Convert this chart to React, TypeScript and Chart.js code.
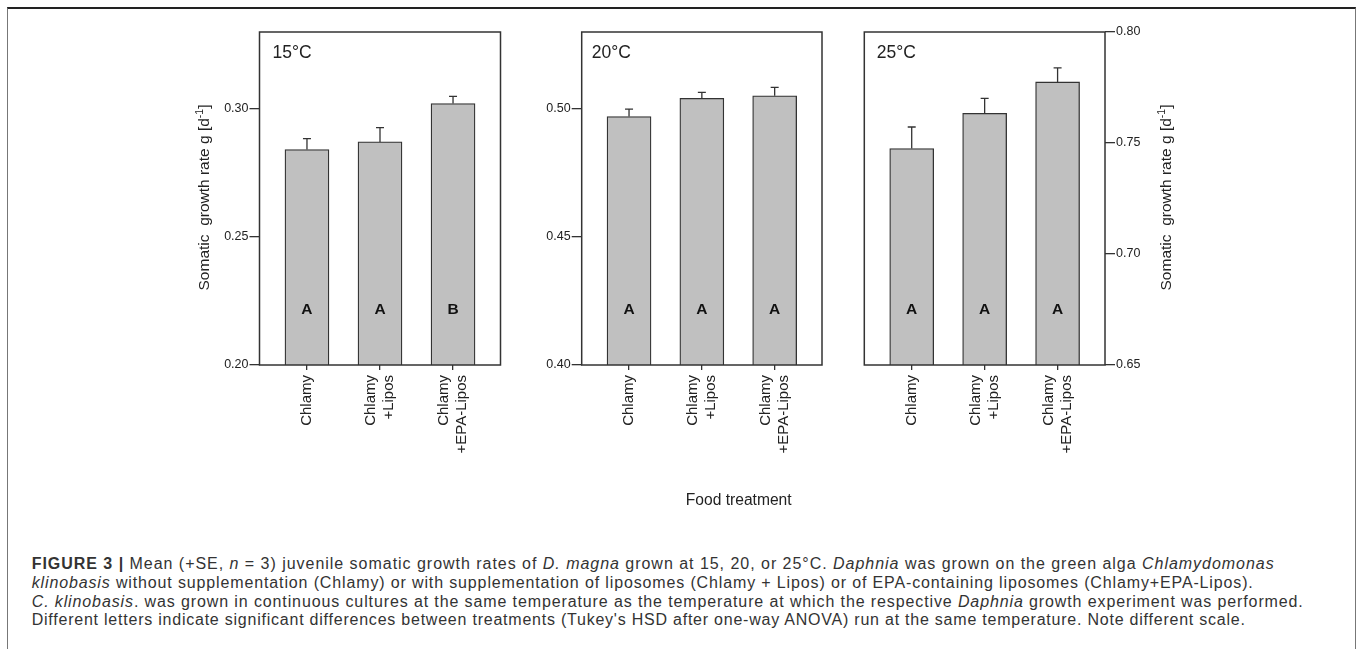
import React, { useEffect, useLayoutEffect, useRef } from 'react';
import { Chart, registerables } from 'chart.js';

Chart.register(...registerables);

const FONT = '"Liberation Sans", Arial, Helvetica, sans-serif';
const INK = '#222';
const LINE = '#333';

// Food treatments on the x axis, one entry per printed line
const treatments: string[][] = [['Chlamy'], ['Chlamy', '+Lipos'], ['Chlamy', '+EPA-Lipos']];

// Rearing temperatures, one panel each
const temperatures = ['15°C', '20°C', '25°C'];

// Mean juvenile somatic growth rate g [d-1] and its standard error
const growth15 = [0.2841, 0.2871, 0.3021];
const se15 = [0.0043, 0.0056, 0.0028];
const growth20 = [0.497, 0.5041, 0.5051];
const se20 = [0.0029, 0.0023, 0.0033];
const growth25 = [0.7475, 0.7634, 0.7775];
const se25 = [0.0097, 0.0067, 0.0063];

// Tukey's HSD groups within each temperature
const letters15 = ['A', 'A', 'B'];
const letters20 = ['A', 'A', 'A'];
const letters25 = ['A', 'A', 'A'];

// Value axes
const yTicks15 = [0.2, 0.25, 0.3];
const yTicks20 = [0.4, 0.45, 0.5];
const yTicks25 = [0.65, 0.7, 0.75, 0.8];
const yRange15 = [0.2, 0.33];
const yRange20 = [0.4, 0.53];
const yRange25 = [0.65, 0.8];

const yTitleMain = 'Somatic  growth rate g [d';
const yTitleSup = '-1';
const yTitleEnd = ']';
const xTitle = 'Food treatment';

type Box = { left: number; top: number; width: number; height: number };
type Area = { left: number; top: number; right: number; bottom: number };

type PanelProps = {
  temp: string;
  values: number[];
  errors: number[];
  letters: string[];
  yTicks: number[];
  yRange: number[];
  axisSide: 'left' | 'right';
  canvas: Box;
  area: Area;
  yTitleDx: number | null;
  showXTitle: boolean;
  tempDx: number;
};

function drawYTitle(ctx: CanvasRenderingContext2D, x: number, y: number) {
  ctx.save();
  ctx.translate(x, y);
  ctx.rotate(-Math.PI / 2);
  ctx.fillStyle = INK;
  ctx.textBaseline = 'middle';
  ctx.textAlign = 'left';
  const main = `15.5px ${FONT}`;
  const sup = `10.5px ${FONT}`;
  ctx.font = main;
  const w1 = ctx.measureText(yTitleMain).width;
  const w3 = ctx.measureText(yTitleEnd).width;
  ctx.font = sup;
  const w2 = ctx.measureText(yTitleSup).width;
  let sx = -(w1 + w2 + w3) / 2;
  ctx.font = main;
  ctx.fillText(yTitleMain, sx, 0);
  sx += w1;
  ctx.font = sup;
  ctx.fillText(yTitleSup, sx, -5);
  sx += w2;
  ctx.font = main;
  ctx.fillText(yTitleEnd, sx, 0);
  ctx.restore();
}

function Panel(p: PanelProps) {
  const ref = useRef<HTMLCanvasElement>(null);

  useEffect(() => {
    const canvas = ref.current;
    if (!canvas) return;
    const c = p.canvas;
    const a = p.area;
    const left = p.axisSide === 'left';
    const yWidth = left ? a.left - c.left : c.left + c.width - a.right;
    const xHeight = c.top + c.height - a.bottom;

    const decor = {
      id: 'panelDecor',
      afterDatasetsDraw(chart: any) {
        const ctx: CanvasRenderingContext2D = chart.ctx;
        const ca = chart.chartArea;
        const xs = chart.scales.x;
        const ys = chart.scales.y;
        ctx.save();

        // error bars (+SE)
        ctx.strokeStyle = LINE;
        ctx.lineWidth = 1.3;
        p.values.forEach((v, i) => {
          const x = xs.getPixelForValue(i);
          const y0 = ys.getPixelForValue(v);
          const y1 = ys.getPixelForValue(v + p.errors[i]);
          ctx.beginPath();
          ctx.moveTo(x, y0);
          ctx.lineTo(x, y1);
          ctx.moveTo(x - 4, y1);
          ctx.lineTo(x + 4, y1);
          ctx.stroke();
        });

        // panel frame
        ctx.lineWidth = 1.5;
        ctx.strokeRect(ca.left, ca.top, ca.right - ca.left, ca.bottom - ca.top);

        // significance letters
        ctx.fillStyle = '#111';
        ctx.font = `bold 15.5px ${FONT}`;
        ctx.textAlign = 'center';
        ctx.textBaseline = 'middle';
        p.letters.forEach((l, i) => {
          ctx.fillText(l, xs.getPixelForValue(i), ca.bottom - 55);
        });

        // temperature label
        ctx.fillStyle = INK;
        ctx.font = `17.5px ${FONT}`;
        ctx.textAlign = 'left';
        ctx.fillText(p.temp, ca.left + p.tempDx, ca.top + 21);

        // rotated treatment labels
        ctx.font = `15px ${FONT}`;
        treatments.forEach((lines, i) => {
          const x = xs.getPixelForValue(i);
          lines.forEach((line, j) => {
            const lx = x + (j - (lines.length - 1) / 2) * 18;
            ctx.save();
            ctx.translate(lx, ca.bottom + 10);
            ctx.rotate(-Math.PI / 2);
            ctx.textAlign = 'right';
            ctx.textBaseline = 'middle';
            ctx.fillText(line, 0, 0);
            ctx.restore();
          });
        });

        if (p.yTitleDx !== null) {
          const ex = left ? ca.left : ca.right;
          drawYTitle(ctx, ex + p.yTitleDx, (ca.top + ca.bottom) / 2 - 1);
        }

        if (p.showXTitle) {
          ctx.font = `15.6px ${FONT}`;
          ctx.textAlign = 'center';
          ctx.textBaseline = 'middle';
          ctx.fillText(xTitle, ca.left + 157, ca.bottom + 136);
        }
        ctx.restore();
      },
    };

    const chart = new Chart(canvas, {
      type: 'bar',
      data: {
        datasets: [
          {
            data: p.values.map((v, i) => ({ x: i, y: v })),
            backgroundColor: '#c0c0c0',
            borderColor: LINE,
            borderWidth: 1.3,
            borderSkipped: false,
            barThickness: 44,
          },
        ],
      },
      options: {
        animation: false,
        responsive: false,
        maintainAspectRatio: false,
        events: [],
        layout: {
          padding: {
            top: a.top - c.top,
            bottom: 0,
            left: left ? 0 : a.left - c.left,
            right: left ? c.left + c.width - a.right : 0,
          },
        },
        plugins: {
          legend: { display: false },
          tooltip: { enabled: false },
        },
        scales: {
          x: {
            type: 'linear',
            position: 'bottom',
            offset: false,
            bounds: 'data',
            min: -0.65,
            max: 2.65,
            afterBuildTicks: (s: any) => {
              s.ticks = treatments.map((_, i) => ({ value: i }));
            },
            afterFit: (s: any) => {
              s.height = xHeight;
            },
            ticks: { display: false },
            grid: {
              display: true,
              offset: false,
              drawOnChartArea: false,
              drawTicks: true,
              tickLength: 5,
              color: LINE,
              lineWidth: 1.3,
            },
            border: { display: false },
          },
          y: {
            type: 'linear',
            position: p.axisSide,
            min: p.yRange[0],
            max: p.yRange[1],
            afterBuildTicks: (s: any) => {
              s.ticks = p.yTicks.map((v) => ({ value: v }));
            },
            afterFit: (s: any) => {
              s.width = yWidth;
            },
            ticks: {
              padding: 1,
              color: INK,
              font: { family: FONT, size: 12.5 },
              callback: (v: any) => Number(v).toFixed(2),
            },
            grid: {
              display: true,
              drawOnChartArea: false,
              drawTicks: true,
              tickLength: 10,
              color: LINE,
              lineWidth: 1.3,
            },
            border: { display: false },
          },
        },
      },
      plugins: [decor],
    } as any);

    return () => chart.destroy();
  }, []);

  const c = p.canvas;
  return (
    <canvas
      ref={ref}
      width={c.width}
      height={c.height}
      style={{ position: 'absolute', left: c.left, top: c.top, width: c.width, height: c.height }}
    />
  );
}

const captionWidths = [1243, 1222, 1272, 1214];

function Caption() {
  const refs = useRef<(HTMLSpanElement | null)[]>([]);
  useLayoutEffect(() => {
    refs.current.forEach((el, i) => {
      if (!el) return;
      el.style.letterSpacing = '0px';
      const w = el.getBoundingClientRect().width;
      const n = (el.textContent || '').length;
      el.style.letterSpacing = `${(captionWidths[i] - w) / n}px`;
    });
  }, []);

  const lines: React.ReactNode[] = [
    <>
      <b style={{ fontWeight: 700 }}>FIGURE 3 |</b> Mean (+SE, <i>n</i> = 3) juvenile somatic growth rates of{' '}
      <i>D. magna</i> grown at 15, 20, or 25°C. <i>Daphnia</i> was grown on the green alga <i>Chlamydomonas</i>
    </>,
    <>
      <i>klinobasis</i> without supplementation (Chlamy) or with supplementation of liposomes (Chlamy + Lipos) or
      of EPA-containing liposomes (Chlamy+EPA-Lipos).
    </>,
    <>
      <i>C. klinobasis</i>. was grown in continuous cultures at the same temperature as the temperature at which
      the respective <i>Daphnia</i> growth experiment was performed.
    </>,
    <>
      Different letters indicate significant differences between treatments (Tukey's HSD after one-way ANOVA) run
      at the same temperature. Note different scale.
    </>,
  ];
  const tops = [564, 582.5, 601.5, 620];

  return (
    <>
      {lines.map((content, i) => (
        <div
          key={i}
          style={{
            position: 'absolute',
            left: 31.7,
            top: tops[i] - 10,
            height: 20,
            lineHeight: '20px',
            whiteSpace: 'nowrap',
            fontFamily: '"Liberation Sans", Arial, sans-serif',
            fontSize: 16,
            color: '#333',
          }}
        >
          <span ref={(el) => { refs.current[i] = el; }}>{content}</span>
        </div>
      ))}
    </>
  );
}

export default function App() {
  return (
    <div
      style={{
        position: 'absolute',
        left: 0,
        top: 0,
        width: 1357,
        height: 649,
        overflow: 'hidden',
        background: '#fff',
      }}
    >
      <div
        style={{
          position: 'absolute',
          left: 6.5,
          top: 6.5,
          width: 1347,
          height: 700,
          borderTop: '2px solid #222',
          borderLeft: '1.5px solid #777',
          borderRight: '1.5px solid #777',
        }}
      />
      <Panel
        temp={temperatures[0]}
        values={growth15}
        errors={se15}
        letters={letters15}
        yTicks={yTicks15}
        yRange={yRange15}
        axisSide="left"
        canvas={{ left: 185, top: 15, width: 330, height: 505 }}
        area={{ left: 259.5, top: 32, right: 500.5, bottom: 365 }}
        yTitleDx={-54.5}
        showXTitle={false}
        tempDx={13}
      />
      <Panel
        temp={temperatures[1]}
        values={growth20}
        errors={se20}
        letters={letters20}
        yTicks={yTicks20}
        yRange={yRange20}
        axisSide="left"
        canvas={{ left: 520, top: 15, width: 320, height: 505 }}
        area={{ left: 581.7, top: 32, right: 822, bottom: 365 }}
        yTitleDx={null}
        showXTitle={true}
        tempDx={10}
      />
      <Panel
        temp={temperatures[2]}
        values={growth25}
        errors={se25}
        letters={letters25}
        yTicks={yTicks25}
        yRange={yRange25}
        axisSide="right"
        canvas={{ left: 845, top: 15, width: 345, height: 505 }}
        area={{ left: 864.3, top: 32, right: 1105, bottom: 365 }}
        yTitleDx={61.7}
        showXTitle={false}
        tempDx={12.5}
      />
      <Caption />
    </div>
  );
}
